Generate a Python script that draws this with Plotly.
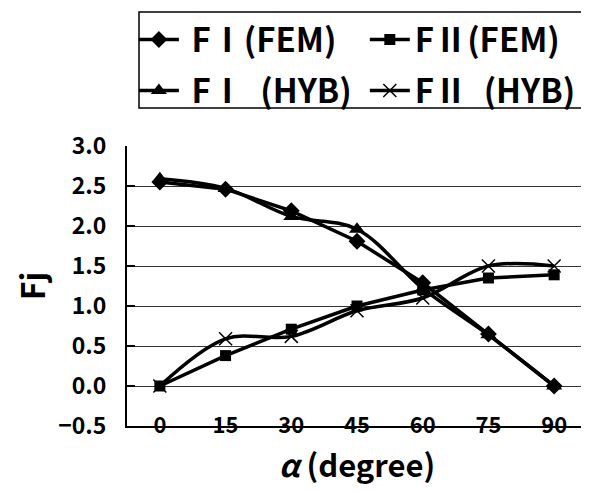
import plotly.graph_objects as go

angles = [0, 15, 30, 45, 60, 75, 90]
fi_fem = [2.55, 2.46, 2.19, 1.81, 1.29, 0.65, 0.0]
fii_fem = [0.0, 0.38, 0.71, 1.00, 1.20, 1.35, 1.39]
fi_hyb = [2.59, 2.47, 2.12, 1.96, 1.22, 0.64, 0.0]
fii_hyb = [0.0, 0.59, 0.62, 0.94, 1.10, 1.50, 1.50]

names = ["\u00a0FⅠ(FEM)", "FⅡ(FEM)", "\u00a0FⅠ\u2002(HYB)", "FⅡ\u2002(HYB)"]
y_ticks = [-0.5, 0.0, 0.5, 1.0, 1.5, 2.0, 2.5, 3.0]
between = [7.5, 22.5, 37.5, 52.5, 67.5, 82.5]

FONT = "Noto Sans CJK JP"
fig = go.Figure()

fig.add_trace(go.Scatter(x=angles, y=fi_fem, name=names[0], mode="lines+markers",
                         line=dict(color="black", width=3.5),
                         marker=dict(symbol="diamond", size=13, color="black"),
                         legend="legend", legendgroup="a"))
fig.add_trace(go.Scatter(x=angles, y=fi_hyb, name=names[2], mode="lines+markers",
                         line=dict(color="black", width=3.5, shape="spline", smoothing=1),
                         marker=dict(symbol="triangle-up", size=14, color="black"),
                         legend="legend", legendgroup="b"))
fig.add_trace(go.Scatter(x=angles, y=fii_fem, name=names[1], mode="lines+markers",
                         line=dict(color="black", width=3.5),
                         marker=dict(symbol="square", size=11, color="black"),
                         legend="legend2", legendgroup="c"))
fig.add_trace(go.Scatter(x=angles, y=fii_hyb, name=names[3], mode="lines+markers",
                         line=dict(color="black", width=3.5, shape="spline", smoothing=1),
                         marker=dict(symbol="x-thin", size=13, color="black",
                                     line=dict(color="black", width=1.5)),
                         legend="legend2", legendgroup="d"))

legend_common = dict(font=dict(family=FONT, size=33, color="black", weight="bold"),
                     bgcolor="rgba(0,0,0,0)", borderwidth=0, tracegroupgap=5,
                     xanchor="left", yanchor="top", itemwidth=40)

# page body adds an 8px offset; figure is sized so it ends at the window edge
fig.update_layout(
    width=581, height=483,
    margin=dict(l=119, r=2, t=138, b=65, autoexpand=False),
    paper_bgcolor="white", plot_bgcolor="white",
    font=dict(family=FONT, color="black"),
    legend=dict(x=0.015, y=1.48, **legend_common),
    legend2=dict(x=0.517, y=1.48, **legend_common),
    xaxis=dict(range=[-7.5, 97.5], tickvals=angles, showgrid=False, zeroline=False,
               showline=True, linecolor="black", linewidth=2, ticks="",
               ticklabelstandoff=-21,
               tickfont=dict(family=FONT, size=22, color="black", weight="bold"),
               title=dict(text="<i>α</i> (degree)", standoff=17,
                          font=dict(family=FONT, size=31, color="black", weight="bold"))),
    xaxis2=dict(range=[-7.5, 97.5], overlaying="x", anchor="free",
                position=0.5 / 3.5, tickvals=between, ticks="inside", ticklen=7,
                tickwidth=1.5, tickcolor="black", showticklabels=False,
                showgrid=False, zeroline=False, showline=True,
                linecolor="black", linewidth=1.5),
    yaxis=dict(range=[-0.5, 3.0], tickvals=y_ticks, tickformat=".1f",
               showgrid=True, gridcolor="#333333", gridwidth=1, zeroline=False,
               showline=True, linecolor="black", linewidth=2,
               ticks="inside", ticklen=8, tickwidth=2, tickcolor="black",
               ticklabelstandoff=14,
               tickfont=dict(family=FONT, size=23, color="black", weight="bold"),
               title=dict(text="Fj", standoff=8,
                          font=dict(family=FONT, size=32, color="black", weight="bold"))),
    shapes=[
        dict(type="rect", xref="paper", yref="paper", x0=(139 - 127) / 460, x1=(583 - 127) / 460,
             y0=(426 - 108) / 280, y1=(426 - 12) / 280, line=dict(color="black", width=1.5)),
        dict(type="line", xref="paper", yref="paper", x0=1, x1=1, y0=0, y1=1,
             line=dict(color="#888888", width=1)),
    ],
)

fig.write_html("out.html")
